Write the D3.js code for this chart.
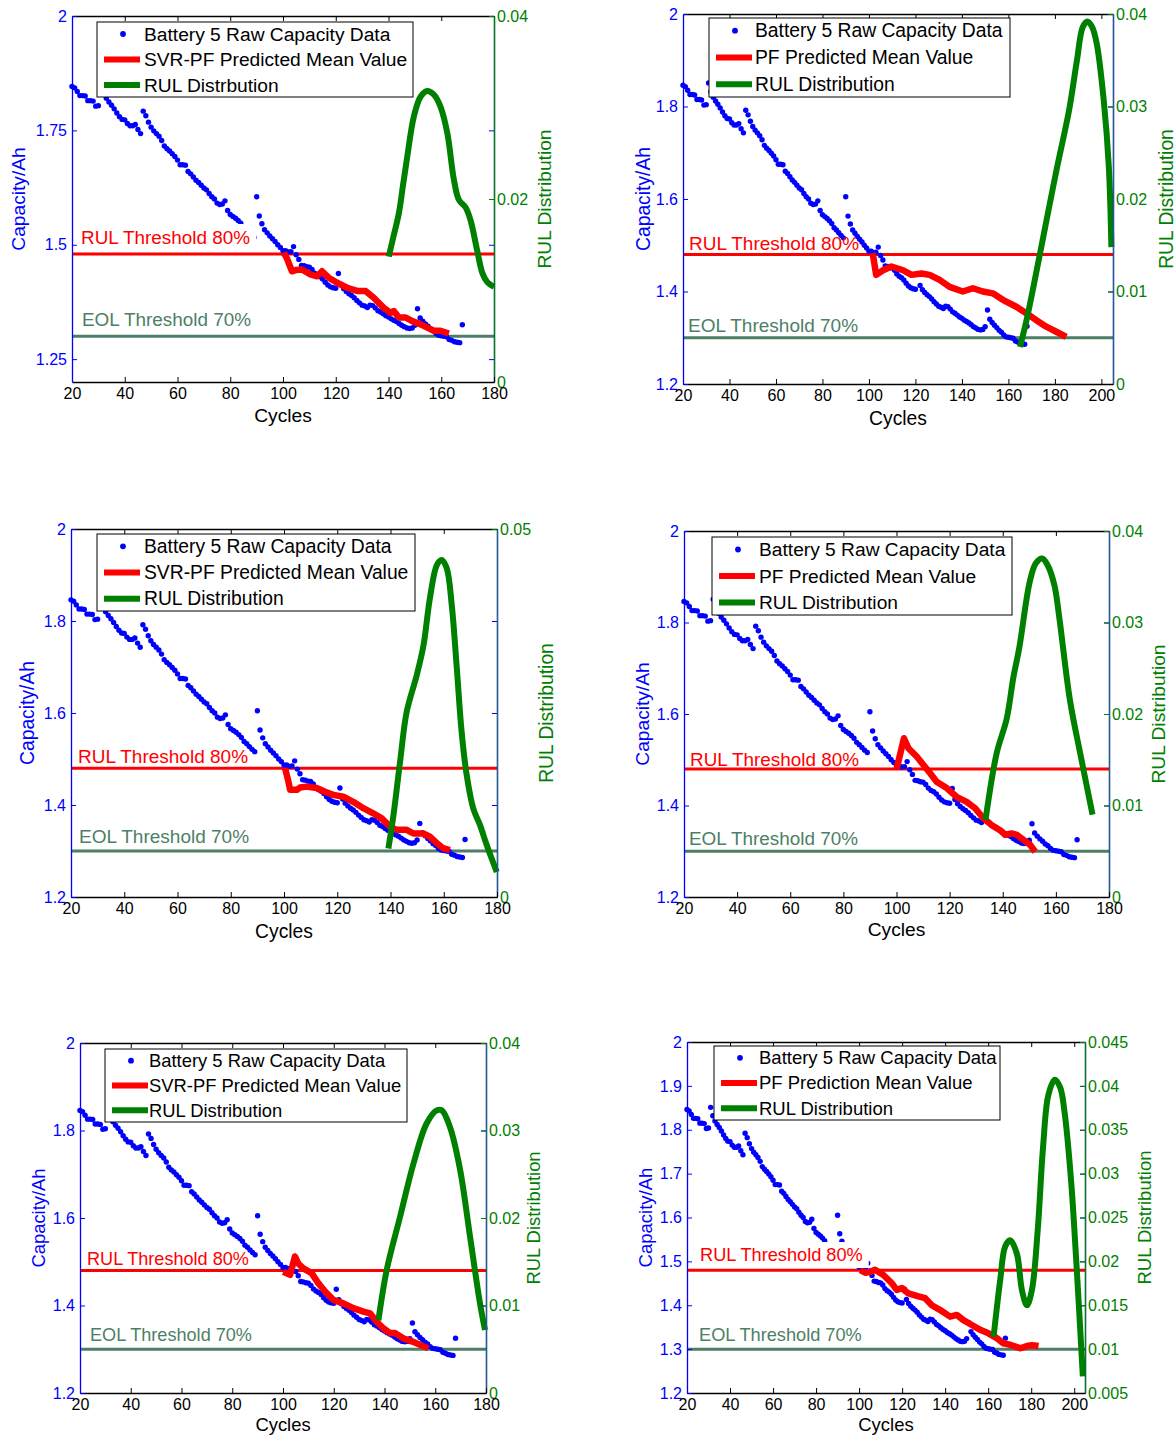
<!DOCTYPE html>
<html>
<head>
<meta charset="utf-8">
<script src="https://cdn.jsdelivr.net/npm/d3@7"></script>
<style>
  html, body { margin: 0; padding: 0; background: #fff; }
  svg text { font-family: "Liberation Sans", Arial, sans-serif; }
</style>
</head>
<body>
<svg id="fig" width="1176" height="1437"></svg>
<script>
// ---- Battery 5 raw capacity (Ah), one value per cycle starting at cycle 20 ----
const firstCycle = 20;
const rawCapacity = [
  1.846,1.843,1.835,1.826,1.826,1.825,1.815,1.815,1.814,1.803,
  1.804,1.851,1.832,1.820,1.812,1.805,1.797,1.788,1.780,1.774,
  1.773,1.765,1.760,1.760,1.763,1.752,1.743,1.792,1.782,1.768,
  1.757,1.749,1.743,1.737,1.728,1.716,1.710,1.705,1.699,1.693,
  1.685,1.675,1.675,1.674,1.660,1.655,1.648,1.641,1.636,1.630,
  1.624,1.620,1.612,1.605,1.600,1.591,1.588,1.589,1.596,1.575,
  1.566,1.562,1.558,1.553,1.547,1.538,1.533,1.527,1.521,1.516,
  1.605,1.563,1.546,1.533,1.526,1.519,1.513,1.507,1.500,1.494,
  1.487,1.487,1.484,1.485,1.496,1.478,1.468,1.455,1.454,1.452,
  1.451,1.446,1.438,1.433,1.430,1.425,1.418,1.412,1.408,1.406,
  1.405,1.437,1.413,1.404,1.398,1.393,1.389,1.384,1.378,1.373,
  1.368,1.366,1.363,1.368,1.367,1.362,1.356,1.353,1.349,1.345,
  1.342,1.338,1.335,1.332,1.328,1.324,1.321,1.318,1.317,1.318,
  1.324,1.360,1.340,1.333,1.327,1.322,1.316,1.312,1.306,1.302,
  1.301,1.300,1.299,1.293,1.291,1.288,1.287,1.286,1.325
];

// ---- thresholds (Ah) ----
const rulThreshold = 1.48;
const eolThreshold = 1.30;

// ---- predicted mean capacity: [cycle, Ah] ----
const svrPfMeanA = [[100.3,1.483],[101.5,1.47],[103.4,1.442],[105,1.445],[107.2,1.446],[110.4,1.435],[112.9,1.431],[114.8,1.442],[117.3,1.428],[120.5,1.417],[124.3,1.406],[128.1,1.399],[131.3,1.399],[134.4,1.384],[138.2,1.362],[140.8,1.351],[142,1.355],[143.9,1.341],[146.5,1.341],[149,1.333],[152.2,1.326],[154.7,1.319],[157.2,1.312],[159.7,1.312],[162.9,1.306]];
const pfMeanA = [[101.6,1.483],[103.1,1.436],[106.1,1.446],[109.7,1.454],[114.7,1.446],[118.3,1.436],[122.6,1.439],[126.1,1.436],[130.4,1.425],[134.7,1.41],[140.4,1.4],[144.7,1.407],[149,1.4],[153.3,1.396],[157.6,1.382],[163.4,1.367],[167.7,1.353],[172,1.338],[176.3,1.324],[180.6,1.313],[184.9,1.302]];
const svrPfMeanB = [[100.4,1.48],[101.5,1.455],[102.3,1.433],[104.8,1.433],[106,1.438],[108.5,1.44],[112.3,1.437],[115.4,1.429],[118.5,1.422],[122.3,1.418],[126,1.407],[129.8,1.393],[133.5,1.382],[136.7,1.371],[139.8,1.353],[142.3,1.346],[146.1,1.346],[148.6,1.338],[152.3,1.338],[154.8,1.331],[157.4,1.317],[159.8,1.306],[162.3,1.302]];
const pfMeanB = [[100.1,1.481],[102.8,1.547],[104.5,1.525],[107.6,1.507],[110.1,1.489],[112.6,1.471],[115.1,1.452],[118.9,1.438],[122.6,1.419],[126.4,1.408],[129.6,1.394],[132.7,1.372],[135.9,1.357],[139,1.346],[140.9,1.336],[143.4,1.339],[145.3,1.336],[147.8,1.325],[150.3,1.314],[152.2,1.299]];
const svrPfMeanC = [[100.1,1.477],[102.8,1.47],[104.7,1.512],[106,1.496],[108,1.485],[111.3,1.474],[113.9,1.451],[116.6,1.432],[119.8,1.413],[123.8,1.405],[127.7,1.394],[131.7,1.386],[134.3,1.382],[136.9,1.363],[139.5,1.348],[142.2,1.337],[144.1,1.337],[147.4,1.325],[151.3,1.317],[154,1.31],[157.3,1.302]];
const pfMeanC = [[100.5,1.48],[103,1.474],[105.1,1.476],[107.4,1.481],[111.3,1.469],[115.2,1.45],[117.5,1.435],[119.9,1.439],[122.9,1.427],[127.6,1.42],[130.7,1.416],[133.8,1.4],[137.7,1.389],[142.3,1.374],[145.4,1.378],[148.5,1.366],[152.4,1.355],[156.3,1.344],[160.1,1.336],[164,1.325],[167.1,1.313],[170.2,1.31],[174.9,1.302],[178,1.307],[180.3,1.309],[183.4,1.307]];

// ---- RUL probability distributions: [cycle, probability] ----
const rulDistA = [[140.1,0.0137],[141.8,0.0158],[143.9,0.0184],[145.5,0.0215],[147.1,0.0246],[149.6,0.029],[152.2,0.0312],[154.7,0.0318],[157.2,0.0314],[159.7,0.0301],[162.3,0.0272],[164.8,0.0221],[166.7,0.0199],[169.2,0.0191],[171.1,0.0177],[173.6,0.0144],[175.6,0.0119],[177.5,0.0109],[180,0.0104]];
const rulDistB = [[165,0.004],[167.8,0.0069],[171,0.0108],[176.4,0.0177],[181,0.0235],[186.1,0.0296],[189.5,0.035],[192,0.0386],[194,0.0392],[196,0.0386],[198,0.0368],[201,0.0307],[203.2,0.0235],[204.3,0.0148]];
const rulDistC = [[139.2,0.0066],[141.1,0.0111],[143.6,0.0184],[146.1,0.0252],[149.9,0.0302],[152.4,0.0342],[154.8,0.0406],[157.4,0.0451],[159.2,0.0458],[161.1,0.0447],[163,0.0397],[164.9,0.0311],[166.7,0.0225],[168.6,0.0166],[171.1,0.012],[173.6,0.0098],[176.1,0.0071],[179.9,0.0034]];
const rulDistD = [[133.5,0.0084],[137.7,0.0157],[141.5,0.0195],[144,0.024],[146.2,0.0272],[150.2,0.0345],[152.5,0.0365],[154.9,0.037],[157,0.0362],[159.5,0.034],[161.3,0.0305],[165.3,0.0215],[169.3,0.0155],[173.8,0.009]];
const rulDistE = [[137.6,0.0083],[140.9,0.0141],[146.1,0.0201],[151.4,0.0262],[156.6,0.0308],[160.6,0.0323],[162.6,0.0323],[165.8,0.0304],[169.8,0.0255],[173.7,0.0179],[177.6,0.0103],[179.6,0.0072]];
const rulDistF = [[162.5,0.0114],[165.6,0.0179],[167.9,0.0217],[170.2,0.0224],[173.3,0.0209],[175.7,0.0167],[178,0.015],[180.3,0.0167],[183,0.0235],[185.5,0.033],[188,0.039],[191,0.0407],[193.5,0.0398],[195.5,0.037],[198.5,0.0293],[201,0.0198],[204,0.0069]];

// ---- tick values ----
const cycleTicks180 = [20,40,60,80,100,120,140,160,180];
const cycleTicks200 = [20,40,60,80,100,120,140,160,180,200];
const capTicksQuarter = [1.25,1.5,1.75,2];
const capTicksFifth = [1.2,1.4,1.6,1.8,2];
const capTicksTenth = [1.2,1.3,1.4,1.5,1.6,1.7,1.8,1.9,2];
const probTicks04Coarse = [0,0.02,0.04];
const probTicks04 = [0,0.01,0.02,0.03,0.04];
const probTicks05 = [0,0.05];
const probTicks045 = [0.005,0.01,0.015,0.02,0.025,0.03,0.035,0.04,0.045];

// ---- legend wording ----
const legendRaw = "Battery 5 Raw Capacity Data";
const legendSvr = "SVR-PF Predicted Mean Value";
const legendPf = "PF Predicted Mean Value";
const legendPfAlt = "PF Prediction Mean Value";
const legendDist = "RUL Distribution";
const legendDistTypo = "RUL Distrbution";

// ---- panel layout ----
const panels = [
  { box:[72,494,16,382], xMax:180, xTicks:cycleTicks180, yTicks:capTicksQuarter, rDom:[0,0.04], rTicks:probTicks04Coarse,
    mean:svrPfMeanA, dist:rulDistA, names:[legendRaw,legendSvr,legendDistTypo], leg:[97,22,316,75], legText:47, fs:19.2,
    rulLbl:[81,237], eolLbl:[82,319], rulBg:true, capLbl:18, distLbl:544, cycLbl:415, rColor:"#008000" },
  { box:[683,1113,14,384], xMax:205, xTicks:cycleTicks200, yTicks:capTicksFifth, rDom:[0,0.04], rTicks:probTicks04,
    mean:pfMeanA, dist:rulDistB, names:[legendRaw,legendPf,legendDist], leg:[709,18,301,79], legText:46, fs:19.3,
    rulLbl:[689,243], eolLbl:[688,325], rulBg:false, capLbl:643, distLbl:1166, cycLbl:418, rColor:"#1f5f8a" },
  { box:[71,497,529,897], xMax:180, xTicks:cycleTicks180, yTicks:capTicksFifth, rDom:[0,0.05], rTicks:probTicks05,
    mean:svrPfMeanB, dist:rulDistC, names:[legendRaw,legendSvr,legendDist], leg:[97,534,318,77], legText:47, fs:19.3,
    rulLbl:[78,756], eolLbl:[79,836], rulBg:false, capLbl:27, distLbl:546, cycLbl:931, rColor:"#1f6478" },
  { box:[684,1109,531,897], xMax:180, xTicks:cycleTicks180, yTicks:capTicksFifth, rDom:[0,0.04], rTicks:probTicks04,
    mean:pfMeanB, dist:rulDistD, names:[legendRaw,legendPf,legendDist], leg:[712,537,300,78], legText:47, fs:19.2,
    rulLbl:[690,759], eolLbl:[689,838], rulBg:false, capLbl:642, distLbl:1158, cycLbl:929, rColor:"#1f6478" },
  { box:[80,486,1043,1393], xMax:180, xTicks:cycleTicks180, yTicks:capTicksFifth, rDom:[0,0.04], rTicks:probTicks04,
    mean:svrPfMeanC, dist:rulDistE, names:[legendRaw,legendSvr,legendDist], leg:[105,1049,302,73], legText:44, fs:18.4,
    rulLbl:[87,1259], eolLbl:[90,1335], rulBg:false, capLbl:39, distLbl:534, cycLbl:1425, rColor:"#1f6478" },
  { box:[687,1085,1042,1393], xMax:205, xTicks:cycleTicks200, yTicks:capTicksTenth, rDom:[0.005,0.045], rTicks:probTicks045,
    mean:pfMeanC, dist:rulDistF, names:[legendRaw,legendPfAlt,legendDist], leg:[714,1046,286,74], legText:45, fs:18.5,
    rulLbl:[700,1255], eolLbl:[699,1335], rulBg:true, capLbl:646, distLbl:1145, cycLbl:1425, rColor:"#008000" }
];

const BLUE = "#0000ff", RED = "#ff0000", GREEN = "#008000", EOL = "#4d7f66";
const svg = d3.select("#fig");
const rawPoints = rawCapacity.map((v, i) => [firstCycle + i, v]);
const fmt = d => String(+d.toFixed(4));

// styles one d3 axis group: line colour, tick colour, label colour
function styleAxis(sel, axis, lineColor, tickColor, textColor, labels) {
  sel.call(axis);
  sel.select(".domain").attr("stroke", lineColor).attr("stroke-width", 1.3);
  sel.selectAll(".tick line").attr("stroke", tickColor);
  const t = sel.selectAll(".tick text");
  if (!labels) { t.remove(); return; }
  t.attr("fill", textColor).attr("font-size", 16)
    .style("font-family", "'Liberation Sans', Arial, sans-serif");
}

panels.forEach(p => {
  const [L, R, T, B] = p.box;
  const g = svg.append("g");
  const x = d3.scaleLinear().domain([20, p.xMax]).range([L, R]);
  const y = d3.scaleLinear().domain([1.2, 2]).range([B, T]);
  const yr = d3.scaleLinear().domain(p.rDom).range([B, T]);

  // threshold lines
  g.append("line").attr("x1", L).attr("x2", R).attr("y1", y(rulThreshold)).attr("y2", y(rulThreshold))
    .attr("stroke", RED).attr("stroke-width", 3);
  g.append("line").attr("x1", L).attr("x2", R).attr("y1", y(eolThreshold)).attr("y2", y(eolThreshold))
    .attr("stroke", EOL).attr("stroke-width", 3);

  // raw capacity points
  g.append("g").selectAll("circle").data(rawPoints).join("circle")
    .attr("cx", d => x(d[0])).attr("cy", d => y(d[1])).attr("r", 2.7).attr("fill", BLUE);

  // predicted mean
  g.append("path").datum(p.mean)
    .attr("d", d3.line().x(d => x(d[0])).y(d => y(d[1])))
    .attr("fill", "none").attr("stroke", RED).attr("stroke-width", 6.5)
    .attr("stroke-linejoin", "round").attr("stroke-linecap", "butt");

  // threshold labels
  const rl = g.append("text").attr("x", p.rulLbl[0]).attr("y", p.rulLbl[1]).attr("dy", "0.35em")
    .attr("font-size", p.fs - 0.3).attr("fill", RED).text("RUL Threshold 80%");
  if (p.rulBg) {
    const bb = rl.node().getBBox();
    g.insert("rect", () => rl.node()).attr("x", bb.x - 4).attr("y", p.rulLbl[1] - 13)
      .attr("width", bb.width + 10).attr("height", 26).attr("fill", "#fff");
  }
  g.append("text").attr("x", p.eolLbl[0]).attr("y", p.eolLbl[1]).attr("dy", "0.35em")
    .attr("font-size", p.fs - 0.3).attr("fill", EOL).text("EOL Threshold 70%");

  // RUL distribution
  g.append("path").datum(p.dist)
    .attr("d", d3.line().x(d => x(d[0])).y(d => yr(d[1])).curve(d3.curveCatmullRom.alpha(0.5)))
    .attr("fill", "none").attr("stroke", GREEN).attr("stroke-width", 6)
    .attr("stroke-linejoin", "round").attr("stroke-linecap", "butt");

  // box and axes (ticks point inward)
  styleAxis(g.append("g").attr("transform", `translate(0,${T})`),
    d3.axisTop(x).tickValues(p.xTicks).tickSizeInner(-5).tickSizeOuter(0), "#000", "#000", "#000", false);
  styleAxis(g.append("g").attr("transform", `translate(${R},0)`),
    d3.axisRight(y).tickValues(p.yTicks).tickSizeInner(-5).tickSizeOuter(0), BLUE, BLUE, BLUE, false);
  styleAxis(g.append("g").attr("transform", `translate(${R},0)`),
    d3.axisRight(yr).tickValues(p.rTicks).tickSizeInner(-5).tickSizeOuter(0).tickPadding(3).tickFormat(fmt),
    p.rColor, GREEN, GREEN, true);
  styleAxis(g.append("g").attr("transform", `translate(0,${B})`),
    d3.axisBottom(x).tickValues(p.xTicks).tickSizeInner(-5).tickSizeOuter(0).tickPadding(6), "#000", "#000", "#000", true);
  styleAxis(g.append("g").attr("transform", `translate(${L},0)`),
    d3.axisLeft(y).tickValues(p.yTicks).tickSizeInner(-5).tickSizeOuter(0).tickPadding(5).tickFormat(fmt),
    BLUE, BLUE, BLUE, true);

  // axis titles
  g.append("text").attr("x", (L + R) / 2).attr("y", p.cycLbl).attr("dy", "0.35em").attr("text-anchor", "middle")
    .attr("font-size", p.fs).attr("fill", "#000").text("Cycles");
  g.append("text").attr("transform", `translate(${p.capLbl},${(T + B) / 2}) rotate(-90)`).attr("dy", "0.35em")
    .attr("text-anchor", "middle").attr("font-size", p.fs).attr("fill", BLUE).text("Capacity/Ah");
  g.append("text").attr("transform", `translate(${p.distLbl},${(T + B) / 2}) rotate(-90)`).attr("dy", "0.35em")
    .attr("text-anchor", "middle").attr("font-size", p.fs).attr("fill", GREEN).text("RUL Distribution");

  // legend
  const [lx, ly, lw, lh] = p.leg;
  const lg = g.append("g");
  lg.append("rect").attr("x", lx).attr("y", ly).attr("width", lw).attr("height", lh)
    .attr("fill", "#fff").attr("stroke", "#000").attr("stroke-width", 1);
  const rows = [0.16, 0.5, 0.84].map(f => ly + lh * f);
  lg.append("circle").attr("cx", lx + 26).attr("cy", rows[0]).attr("r", 2.9).attr("fill", BLUE);
  lg.append("line").attr("x1", lx + 7).attr("x2", lx + 43).attr("y1", rows[1]).attr("y2", rows[1])
    .attr("stroke", RED).attr("stroke-width", 6);
  lg.append("line").attr("x1", lx + 7).attr("x2", lx + 43).attr("y1", rows[2]).attr("y2", rows[2])
    .attr("stroke", GREEN).attr("stroke-width", 6);
  p.names.forEach((n, i) => {
    lg.append("text").attr("x", lx + p.legText).attr("y", rows[i]).attr("dy", "0.35em")
      .attr("font-size", p.fs).attr("fill", "#000").text(n);
  });
});
</script>
</body>
</html>
